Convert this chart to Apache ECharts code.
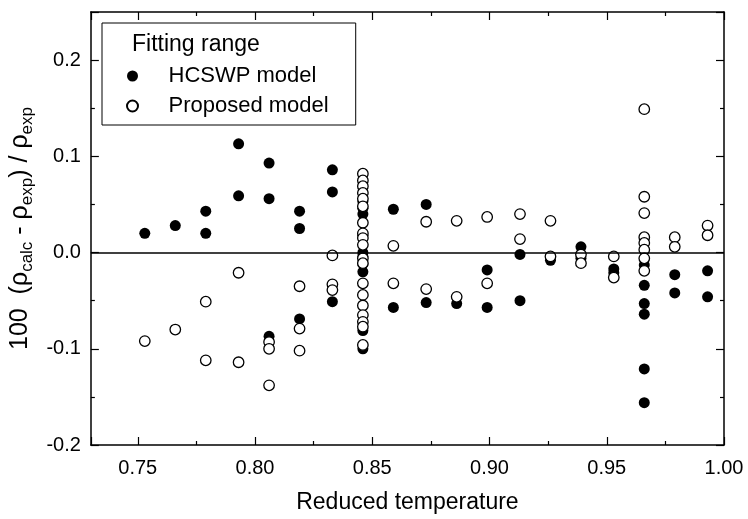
<!DOCTYPE html>
<html>
<head>
<meta charset="utf-8">
<script src="https://cdn.jsdelivr.net/npm/echarts@6/dist/echarts.min.js"></script>
<style>
html,body{margin:0;padding:0;background:#fff;}
#chart{width:748px;height:519px;}
</style>
</head>
<body>
<div id="chart"></div>
<script>
// Reduced temperatures of the data columns
const reducedT = [0.753, 0.766, 0.779, 0.793, 0.806, 0.819, 0.833, 0.846, 0.859, 0.873,
                  0.886, 0.899, 0.913, 0.926, 0.939, 0.953, 0.966, 0.979, 0.993];

// 100 (rho_calc - rho_exp)/rho_exp, HCSWP model (filled circles), one list per column
const hcswpDev = [
  [0.020],
  [0.028],
  [0.043, 0.020],
  [0.113, 0.059],
  [0.093, 0.056, -0.087],
  [0.043, 0.025, -0.069],
  [0.086, 0.063, -0.051],
  [0.053, 0.046, 0.040, 0.018, 0.000, -0.004, -0.012, -0.020, -0.081, -0.100],
  [0.045, -0.057],
  [0.050, -0.052],
  [-0.053],
  [-0.018, -0.057],
  [-0.002, -0.050],
  [-0.008],
  [0.006, -0.006],
  [-0.017, -0.021],
  [-0.013, -0.034, -0.053, -0.064, -0.121, -0.156],
  [-0.023, -0.042],
  [-0.019, -0.046]
];

// Proposed model (open circles), one list per column
const proposedDev = [
  [-0.092],
  [-0.080],
  [-0.051, -0.112],
  [-0.021, -0.114],
  [-0.093, -0.100, -0.138],
  [-0.035, -0.079, -0.102],
  [-0.003, -0.033, -0.039],
  [0.082, 0.075, 0.069, 0.062, 0.056, 0.048, 0.031, 0.020, 0.015, 0.008, -0.006, -0.011, -0.032, -0.044, -0.055, -0.065, -0.072, -0.077, -0.096],
  [0.007, -0.032],
  [0.032, -0.038],
  [0.033, -0.046],
  [0.037, -0.032],
  [0.040, 0.014],
  [0.033, -0.004],
  [-0.002, -0.011],
  [-0.004, -0.026],
  [0.149, 0.058, 0.041, 0.016, 0.010, 0.003, -0.006, -0.019],
  [0.016, 0.006],
  [0.028, 0.018]
];

const xTickLabels = ['0.75', '0.80', '0.85', '0.90', '0.95', '1.00'];
const yTickLabels = ['-0.2', '-0.1', '0.0', '0.1', '0.2'];
const seriesNames = ['HCSWP model', 'Proposed model'];
const legendTitle = 'Fitting range';
const xName = 'Reduced temperature';

function toPoints(devs) {
  const out = [];
  devs.forEach((col, i) => col.forEach(v => out.push([reducedT[i], v])));
  return out;
}

const FONT = '"Liberation Sans", Arial, Helvetica, sans-serif';
const black = '#000';

function xFmt(v) {
  const s = v.toFixed(2);
  return xTickLabels.indexOf(s) >= 0 && Math.abs(v * 20 - Math.round(v * 20)) < 1e-6 ? s : '';
}
function yFmt(v) {
  if (Math.abs(v * 10 - Math.round(v * 10)) > 1e-6) return '';
  const s = (Math.abs(v) < 1e-9 ? 0 : v).toFixed(1);
  return yTickLabels.indexOf(s) >= 0 ? s : '';
}

const tickCommon = {
  axisLine: { onZero: false, lineStyle: { color: black, width: 1.5 } },
  axisTick: { show: true, inside: true, length: 8, lineStyle: { color: black, width: 1.2 } },
  minorTick: { show: true, splitNumber: 2, length: 4, lineStyle: { color: black, width: 1.2 } },
  splitLine: { show: false },
  minorSplitLine: { show: false }
};

const chart = echarts.init(document.getElementById('chart'), null, { renderer: 'canvas' });

chart.setOption({
  animation: false,
  backgroundColor: '#fff',
  textStyle: { fontFamily: FONT },
  title: {
    text: legendTitle,
    left: 132,
    top: 33,
    padding: 0,
    textStyle: { fontSize: 23, fontWeight: 'normal', color: black, fontFamily: FONT }
  },
  legend: {
    orient: 'vertical',
    left: 102,
    top: 23,
    padding: [41, 27, 7, 24],
    itemWidth: 62,
    itemHeight: 11,
    itemGap: 6,
    borderColor: black,
    borderWidth: 1,
    selectedMode: false,
    data: seriesNames,
    textStyle: { fontSize: 22, color: black, fontFamily: FONT, lineHeight: 24 }
  },
  grid: { left: 90, right: 24, top: 12, bottom: 72, containLabel: false },
  xAxis: [
    Object.assign({
      type: 'value', position: 'bottom', min: 0.73, max: 1.0, splitNumber: 5,
      axisLabel: { margin: 13, fontSize: 20, color: black, fontFamily: FONT, formatter: xFmt },
      name: xName, nameLocation: 'middle', nameGap: 46,
      nameTextStyle: { fontSize: 23, color: black, fontFamily: FONT }
    }, tickCommon),
    Object.assign({
      type: 'value', position: 'top', min: 0.73, max: 1.0, splitNumber: 5,
      axisLabel: { show: false }
    }, tickCommon)
  ],
  yAxis: [
    Object.assign({
      type: 'value', position: 'left', min: -0.2, max: 0.25, interval: 0.1,
      axisLabel: { margin: 10, fontSize: 20, color: black, fontFamily: FONT, formatter: yFmt },
      name: '{m|100  (ρ}{s|calc}{m| - ρ}{s|exp}{m|) / ρ}{s|exp}',
      nameLocation: 'middle', nameRotate: 90, nameGap: 55,
      nameTextStyle: {
        color: black, fontFamily: FONT,
        rich: {
          m: { fontSize: 25, lineHeight: 30, verticalAlign: 'middle', color: black, fontFamily: FONT },
          s: { fontSize: 17, lineHeight: 17, verticalAlign: 'bottom', color: black, fontFamily: FONT }
        }
      }
    }, tickCommon),
    Object.assign({
      type: 'value', position: 'right', min: -0.2, max: 0.25, interval: 0.1,
      axisLabel: { show: false }
    }, tickCommon)
  ],
  series: [
    {
      name: seriesNames[0],
      type: 'scatter',
      xAxisIndex: 0, yAxisIndex: 0,
      symbol: 'circle',
      symbolSize: 11,
      itemStyle: { color: black, opacity: 1 },
      data: toPoints(hcswpDev),
      z: 2,
      markLine: {
        silent: true,
        symbol: ['none', 'none'],
        label: { show: false },
        lineStyle: { color: black, type: 'solid', width: 1.5 },
        data: [{ yAxis: 0 }]
      }
    },
    {
      name: seriesNames[1],
      type: 'scatter',
      xAxisIndex: 0, yAxisIndex: 0,
      symbol: 'circle',
      symbolSize: 10.5,
      itemStyle: { color: '#fff', borderColor: black, borderWidth: 1.3, opacity: 1 },
      data: toPoints(proposedDev),
      z: 3
    }
  ]
});
</script>
</body>
</html>
